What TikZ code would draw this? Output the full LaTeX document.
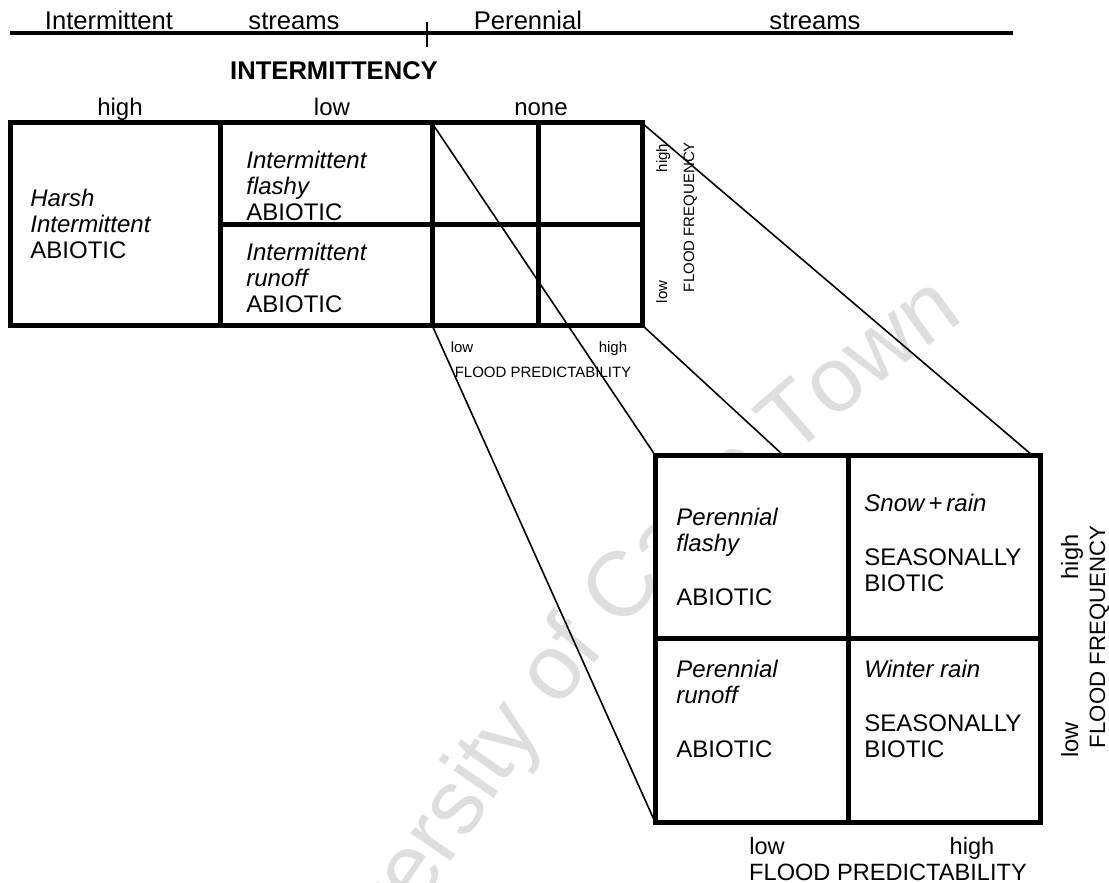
\documentclass[tikz,border=0pt]{standalone}
\usepackage{fontspec}
\setmainfont{Liberation Sans}
\usetikzlibrary{decorations.text}
\begin{document}
\begin{tikzpicture}[x=0.5pt,y=-0.5pt,
  frame/.style={line width=2.5pt},
  axisline/.style={line width=2pt},
  link/.style={line width=0.8pt},
  toptext/.style={inner sep=0pt, anchor=base, font=\fontsize{12.8}{14}\selectfont},
  level/.style={inner sep=0pt, anchor=base, font=\fontsize{12}{13}\selectfont},
  cell/.style={inner sep=0pt, anchor=west, align=left, font=\fontsize{12}{13}\selectfont},
  small/.style={inner sep=0pt, anchor=base, font=\fontsize{7.5}{9}\selectfont},
  axislbl/.style={inner sep=0pt, anchor=base, font=\fontsize{11.8}{13}\selectfont},
]
\clip (0,0) rectangle (1109,883);
\fill[white] (0,0) rectangle (1109,883);

% curved watermark behind everything
\coordinate (wmS) at (293,1046);
\coordinate (wmA) at (456,808);
\coordinate (wmC) at (950,299);
\coordinate (wmE) at (994,270);
\path[decorate, decoration={text along path, raise=-13pt,
    text={|\color{black!13}\fontsize{46}{50}\selectfont|University of Cape Town}}]
  (wmS) -- (wmA) .. controls (592,604) and (756,435) .. (wmC) -- (wmE);

% stream-type axis
\coordinate (axL) at (10,33);
\coordinate (axR) at (1013,33);
\coordinate (tickT) at (427,22);
\coordinate (tickB) at (427,47);
\draw[axisline] (axL) -- (axR);
\draw[line width=0.9pt] (tickT) -- (tickB);
\node[toptext] (t1) at (109,30) {Intermittent};
\node[toptext] (t2) at (294,30) {streams};
\node[toptext] (t3) at (528,30) {Perennial};
\node[toptext] (t4) at (815,30) {streams};
\node[toptext, font=\fontsize{12.8}{14}\selectfont\bfseries] (int) at (334,80) {INTERMITTENCY};
\node[level] (lh) at (120,116) {high};
\node[level] (ll) at (332,116) {low};
\node[level] (ln) at (541,116) {none};

% upper classification grid
\coordinate (uTL) at (10,123);
\coordinate (uBR) at (642,325);
\coordinate (uNoneT) at (432,123);
\coordinate (uNoneB) at (432,325);
\coordinate (uTR) at (642,123);
\draw[frame] (uTL) rectangle (uBR);
\draw[frame] (220,123) -- (220,325);
\draw[frame] (uNoneT) -- (uNoneB);
\draw[frame] (538,123) -- (538,325);
\draw[frame] (220,224) -- (642,224);

\node[cell] (harsh) at (30,224) {\itshape Harsh\\\itshape Intermittent\\ABIOTIC};
\node[cell] (iflash) at (246,186) {\itshape Intermittent\\\itshape flashy\\ABIOTIC};
\node[cell] (irun) at (246,277.5) {\itshape Intermittent\\\itshape runoff\\ABIOTIC};

\node[small] (plow) at (462,352) {low};
\node[small] (phigh) at (613,352) {high};
\node[small] (pred) at (543,377) {FLOOD PREDICTABILITY};
\node[small, rotate=90] (fhigh) at (667,158) {high};
\node[small, rotate=90] (flow) at (667,292) {low};
\node[small, rotate=90] (freq) at (694,217) {FLOOD FREQUENCY};

% lower, enlarged grid
\coordinate (lTL) at (655,455);
\coordinate (lBL) at (655,822);
\coordinate (lBR) at (1040,822);
\coordinate (lTop) at (783,455);
\coordinate (lTR) at (1032,455);
\draw[frame, fill=white] (lTL) rectangle (lBR);
\draw[frame] (848,455) -- (848,822);
\draw[frame] (655,638) -- (1040,638);

% projection lines
\draw[link] (uNoneT) -- (lTL);
\draw[link] (uNoneB) -- (lBL);
\draw[link] (uBR) -- (lTop);
\draw[link] (uTR) -- (lTR);

\node[cell] (pflash) at (676,557) {\itshape Perennial\\\itshape flashy\\[14pt]ABIOTIC};
\node[cell] (snow) at (864,543) {\itshape Snow\,+\,rain\\[14pt]SEASONALLY\\BIOTIC};
\node[cell] (prun) at (676,709) {\itshape Perennial\\\itshape runoff\\[14pt]ABIOTIC};
\node[cell] (winter) at (864,709) {\itshape Winter rain\\[14pt]SEASONALLY\\BIOTIC};

\node[axislbl] (Plow) at (767,854) {low};
\node[axislbl] (Phigh) at (972,854) {high};
\node[axislbl] (Pred) at (888,880) {FLOOD PREDICTABILITY};
\node[axislbl, rotate=90] (Fhigh) at (1078,557) {high};
\node[axislbl, rotate=90] (Flow) at (1078,740) {low};
\node[axislbl, rotate=90, font=\fontsize{11.1}{13}\selectfont] (Freq) at (1105,637) {FLOOD FREQUENCY};
\end{tikzpicture}
\end{document}
